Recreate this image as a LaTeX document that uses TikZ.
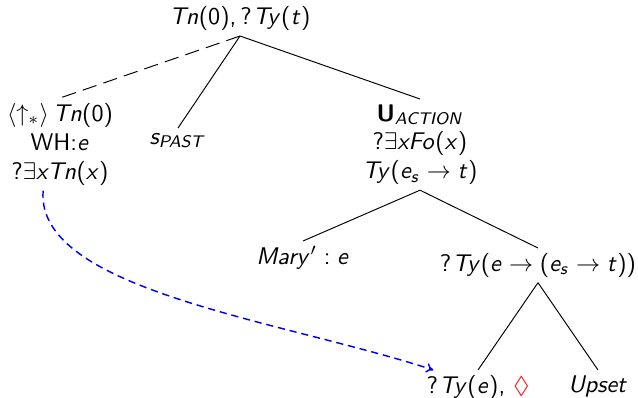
\documentclass[tikz,border=0pt]{standalone}
\usepackage{amssymb}
\usetikzlibrary{arrows.meta}
\DeclareSymbolFont{sfl}{OT1}{cmss}{m}{sl}
\DeclareSymbolFont{sfn}{OT1}{cmss}{m}{n}
\DeclareMathAlphabet{\mathit}{OT1}{cmss}{m}{sl}
\DeclareMathAlphabet{\mathbf}{OT1}{cmss}{bx}{n}
\count255=`a
\loop \mathcode\count255=\numexpr "7000+\symsfl*256+\count255\relax
  \ifnum\count255<`z \advance\count255 1 \repeat
\count255=`A
\loop \mathcode\count255=\numexpr "7000+\symsfl*256+\count255\relax
  \ifnum\count255<`Z \advance\count255 1 \repeat
\count255=`0
\loop \mathcode\count255=\numexpr "7000+\symsfn*256+\count255\relax
  \ifnum\count255<`9 \advance\count255 1 \repeat
\mathcode`(=\numexpr "4000+\symsfn*256+`(\relax
\mathcode`)=\numexpr "5000+\symsfn*256+`)\relax
\mathcode`,=\numexpr "6000+\symsfn*256+`,\relax
\mathcode`?=\numexpr "0000+\symsfn*256+`?\relax
\mathcode`:=\numexpr "3000+\symsfn*256+`:\relax
\begin{document}
\begin{tikzpicture}[x=0.415pt,y=-0.415pt,
  lbl/.style={inner sep=2pt, align=center, font=\sffamily},
  edge/.style={draw=black, line width=0.4pt},
  linkdash/.style={draw=black, line width=0.4pt, dash pattern=on 6pt off 3pt},
  pointer/.style={draw=blue, line width=0.6pt, dash pattern=on 3pt off 2pt, -{To[length=3pt,width=4pt]}}]
\path[use as bounding box] (0,0) rectangle (638,397);
\node[lbl, anchor=south] (root) at (240,36) {$Tn(0), ?\mkern1mu Ty(t)$};
\node[lbl, anchor=north] (wh) at (60,98) {$\langle\uparrow_*\rangle\, Tn(0)$\\ WH:$e$\\ $?\exists x Tn(x)$};
\node[lbl, anchor=north] (spast) at (178,128) {$s_{\mathit{PAST}}$};
\node[lbl, anchor=north] (uact) at (420,99) {$\mathbf{U}_{\mathit{ACTION}}$\\ $?\exists x Fo(x)$\\ $Ty(e_s\rightarrow t)$};
\node[lbl, anchor=north] (mary) at (303,241) {$Mary' : e$};
\node[lbl, anchor=north] (pred) at (538,248) {$?\mkern1mu Ty(e\rightarrow(e_s\rightarrow t))$};
\node[lbl, anchor=north] (obj) at (478,370) {$?\mkern1mu Ty(e)$, $\textcolor{red}{\Diamond}$};
\node[lbl, anchor=north] (upset) at (598,370) {$Upset$};
\draw[linkdash] (root.south) -- (wh.north);
\draw[edge] (root.south) -- (spast.north);
\draw[edge] (root.south) -- (uact.north);
\draw[edge] (uact.south) -- (mary.north);
\draw[edge] (uact.south) -- (pred.north);
\draw[edge] (pred.south) -- (obj.north);
\draw[edge] (pred.south) -- (upset.north);
\draw[pointer] ([xshift=-7pt]wh.south) .. controls (35,290) and (280,320) .. ([xshift=5pt]obj.north west);
\end{tikzpicture}
\end{document}
